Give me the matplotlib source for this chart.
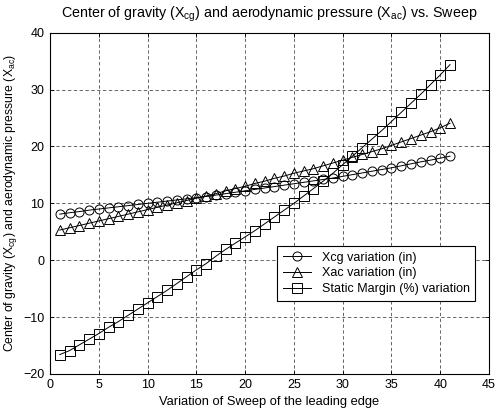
import matplotlib
matplotlib.use("Agg")
import matplotlib.pyplot as plt

plt.rcParams['font.family'] = ['Liberation Sans', 'DejaVu Sans']
plt.rcParams['mathtext.fontset'] = 'custom'
plt.rcParams['mathtext.rm'] = 'Liberation Sans'
plt.rcParams['mathtext.it'] = 'Liberation Sans'
plt.rcParams['mathtext.default'] = 'regular'

sweep = list(range(1, 42))

xcg = [8.1, 8.35, 8.55, 8.8, 9.0, 9.2, 9.4, 9.6, 9.8, 10.0,
       10.2, 10.4, 10.6, 10.8, 11.0, 11.2, 11.45, 11.7, 11.95, 12.2,
       12.45, 12.7, 12.95, 13.2, 13.45, 13.7, 13.95, 14.2, 14.45, 14.75,
       15.05, 15.35, 15.65, 15.95, 16.25, 16.6, 16.95, 17.3, 17.6, 17.95,
       18.3]

xac = [5.3, 5.7, 6.1, 6.5, 6.9, 7.3, 7.7, 8.1, 8.5, 8.9,
       9.3, 9.7, 10.1, 10.5, 10.9, 11.3, 11.7, 12.2, 12.6, 13.0,
       13.5, 13.9, 14.4, 14.8, 15.3, 15.7, 16.1, 16.6, 17.1, 17.6,
       18.1, 18.6, 19.1, 19.6, 20.2, 20.8, 21.4, 22.0, 22.6, 23.3,
       24.1]

static_margin = [-16.6, -15.9, -14.9, -13.9, -12.9, -11.8, -10.8, -9.7, -8.6, -7.5,
                 -6.4, -5.3, -4.1, -2.9, -1.7, -0.6, 0.7, 1.9, 3.0, 4.1,
                 5.2, 6.4, 7.6, 8.8, 10.0, 11.3, 12.6, 13.9, 15.3, 16.8,
                 18.3, 19.8, 21.3, 22.8, 24.4, 26.0, 27.6, 29.2, 30.9, 32.6,
                 34.4]

x_ticks = [0, 5, 10, 15, 20, 25, 30, 35, 40, 45]
y_ticks = [-20, -10, 0, 10, 20, 30, 40]

fig = plt.figure(figsize=(4.95, 4.15), dpi=100)
ax = fig.add_axes([0.101, 0.099, 0.887, 0.822])

mk = dict(color='black', linewidth=0.7, markersize=6.5, markerfacecolor='none',
          markeredgecolor='black', markeredgewidth=0.7)
ax.plot(sweep, xcg, marker='o', label='Xcg variation (in)', **mk)
ax.plot(sweep, xac, marker='^', label='Xac variation (in)', **mk)
ax.plot(sweep, static_margin, marker='s', label='Static Margin (%) variation', **mk)

ax.set_xlim(0, 45)
ax.set_ylim(-20, 40)
ax.set_xticks(x_ticks)
ax.set_yticks(y_ticks)
ax.tick_params(direction='in', length=3, labelsize=9, top=True, right=True,
               width=0.6, pad=4)
ax.grid(True, linestyle=(0, (4, 3)), color='black', linewidth=0.6, alpha=0.7)
for s in ax.spines.values():
    s.set_linewidth(0.8)

ax.set_title(r'Center of gravity (X$_{cg}$) and aerodynamic pressure (X$_{ac}$) vs. Sweep',
             fontsize=10.3, pad=11)
ax.set_xlabel('Variation of Sweep of the leading edge', fontsize=9.3, labelpad=3)
ax.set_ylabel(r'Center of gravity (X$_{cg}$) and aerodynamic pressure (X$_{ac}$)',
              fontsize=8.8, labelpad=3)

leg = ax.legend(loc='upper left', bbox_to_anchor=(0.518, 0.375), fontsize=9,
                frameon=True, fancybox=False, edgecolor='black', framealpha=1,
                handlelength=2.2, borderpad=0.45, labelspacing=0.3, handletextpad=0.9,
                borderaxespad=0)
leg.get_frame().set_linewidth(0.8)

fig.savefig('out.png', dpi=100)
